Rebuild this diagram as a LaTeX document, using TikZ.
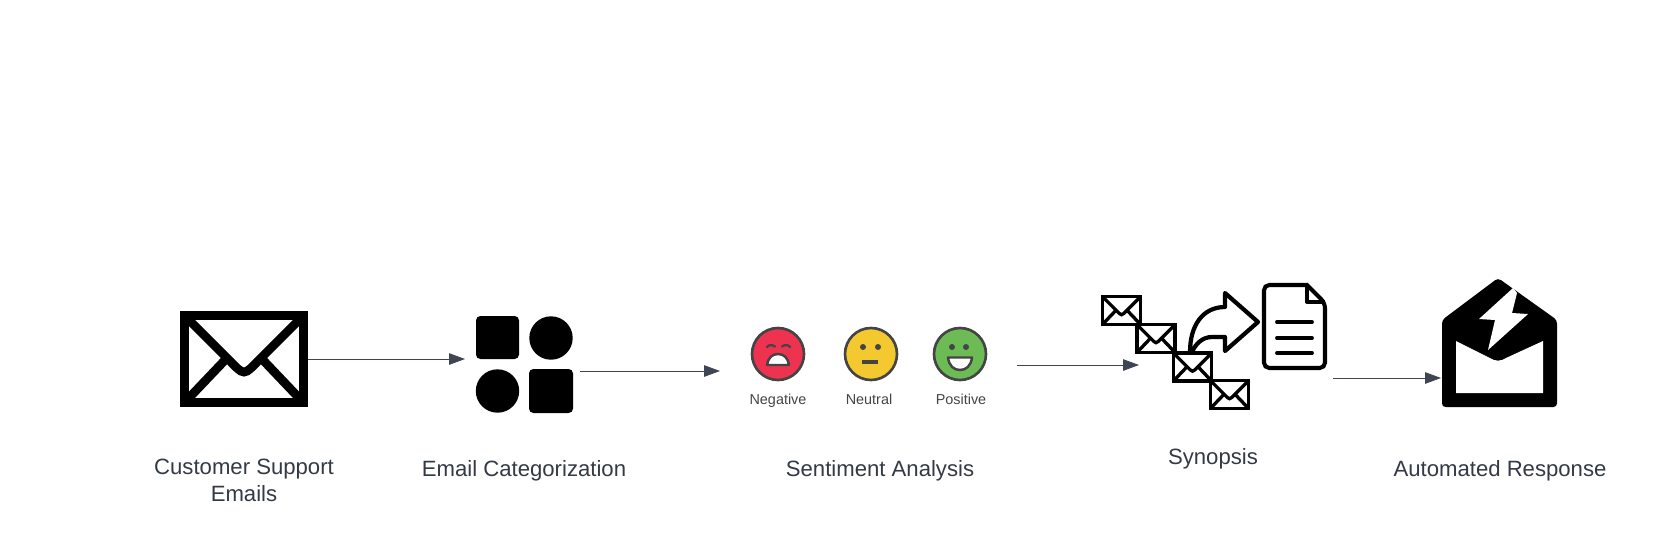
\documentclass[tikz,border=0pt]{standalone}
\usepackage{fontspec}
\setmainfont{Liberation Sans}
\definecolor{flowgray}{HTML}{3F4552}
\definecolor{labelgray}{HTML}{333A45}
\definecolor{facegray}{HTML}{444444}
\definecolor{facered}{HTML}{EE3350}
\definecolor{faceyellow}{HTML}{F4C92F}
\definecolor{facegreen}{HTML}{6CBB55}
\usetikzlibrary{arrows.meta}
\tikzset{
	flow/.style={draw=flowgray, line width=0.45pt, -{Triangle[length=9pt, width=6.5pt, fill=flowgray]}},
	steplabel/.style={text=labelgray, align=center, font=\fontsize{12.6}{14.4}\selectfont, inner sep=0pt, anchor=base},
	facelabel/.style={text=facegray, font=\fontsize{8.2}{10}\selectfont, inner sep=0pt, anchor=base},
	faceface/.style={draw=facegray, line width=1.5pt},
}
% envelope, drawn around its centre: x, y, scale, line width
\newcommand{\mailicon}[4]{
	\begin{scope}[shift={(#1,#2)}, scale=#3]
		\draw[line width=#4, fill=white] (-59.5,-43.5) rectangle (59.5,43.5);
		\draw[line width=#4] (-58,-42) -- (-15,1) .. controls (-8,8) and (-4,13) .. (0,13) .. controls (4,13) and (8,8) .. (15,1) -- (58,-42);
		\draw[line width=#4] (-57,41) -- (-18,0);
		\draw[line width=#4] (57,41) -- (18,0);
	\end{scope}
}
\begin{document}
\begin{tikzpicture}[x=0.02cm, y=-0.02cm]
	\useasboundingbox (0,0) rectangle (1660,552);

	% customer support emails
	\node[minimum width=2.56cm, minimum height=1.92cm, inner sep=0pt] (mail) at (244,359) {};
	\mailicon{244}{359}{1}{5pt}
	\node[steplabel] (mailtext) at (244,474) {Customer Support};
	\node[steplabel] (mailtext2) at (244,501) {Emails};

	% categorization
	\coordinate (gridin) at (465,359);
	\coordinate (gridout) at (580,371);
	\fill[rounded corners=2.5pt] (476,316) rectangle (519,359);
	\fill (551,338) circle (21.7);
	\fill (497.5,391) circle (21.7);
	\fill[rounded corners=2.5pt] (529,369) rectangle (573,413);
	\node[steplabel] (gridtext) at (524,476) {Email Categorization};

	% sentiment
	\coordinate (facein) at (720,371);
	\coordinate (faceout) at (1017,365);
	\filldraw[faceface, fill=facered] (778,354) circle (26);
	\draw[facegray, line width=1.3pt, line cap=round] (767,347) .. controls (769,344.5) and (772,344.5) .. (775,346.5);
	\draw[facegray, line width=1.3pt, line cap=round] (782,346.5) .. controls (785,344.5) and (788,344.5) .. (790,347);
	\filldraw[draw=facegray, fill=white, line width=1.4pt, line join=round] (767,365) .. controls (768,358) and (772,354) .. (778,354) .. controls (784,354) and (788,358) .. (789,365) -- cycle;
	\filldraw[faceface, fill=faceyellow] (871,354) circle (26);
	\fill[facegray] (863,347) circle (3) (878,347) circle (3);
	\fill[facegray] (862,359.5) rectangle (878,363.5);
	\filldraw[faceface, fill=facegreen] (960,354) circle (26);
	\fill[facegray] (952,347) circle (3) (966,347) circle (3);
	\filldraw[draw=facegray, fill=white, line width=1.4pt, line join=round] (948,357.5) -- (972,357.5) .. controls (971,366) and (966,370) .. (960,370) .. controls (954,370) and (949,366) .. (948,357.5) -- cycle;
	\node[facelabel] (negative) at (778,404) {Negative};
	\node[facelabel] (neutral) at (869,404) {Neutral};
	\node[facelabel] (positive) at (961,404) {Positive};
	\node[steplabel] (facetext) at (880,476) {Sentiment Analysis};

	% synopsis
	\coordinate (synin) at (1139,365);
	\coordinate (synout) at (1333,378);
	\filldraw[fill=white, line width=2.4pt, line join=round] (1190,352) .. controls (1190,325) and (1203,307) .. (1225,307) -- (1225,293) -- (1258,322) -- (1225,351) -- (1225,337) -- (1212,337) .. controls (1203,337) and (1196,343) .. (1192,352);
	\foreach \mailx/\maily in {1121.5/310.5, 1156/338.5, 1192.5/367, 1229.5/394.5}
		{\mailicon{\mailx}{\maily}{0.32}{1.9pt}}
	\draw[line width=2.3pt, rounded corners=3pt] (1290,285) -- (1264,285) -- (1264,368) -- (1325,368) -- (1325,303) [sharp corners] -- (1307,285) -- (1290,285);
	\draw[line width=2.3pt, line join=round] (1307,285) -- (1307,302) -- (1325,302);
	\foreach \liney in {322,338,353}
		{\draw[line width=2.2pt, line cap=round] (1277,\liney) -- (1312,\liney);}
	\node[steplabel] (syntext) at (1213,464) {Synopsis};

	% response
	\coordinate (respin) at (1441,378);
	\fill[rounded corners=2pt] (1442,320) -- (1498,278) -- (1557,320) -- (1557,407) -- (1442,407) -- cycle;
	\fill[white] (1456,341) -- (1490,358) .. controls (1495,361.5) and (1501,361.5) .. (1506,358) -- (1543,341) -- (1543,393) -- (1456,393) -- cycle;
	\fill[white] (1513,288) -- (1479,319) -- (1495,320) -- (1488,350) -- (1528,314) -- (1512,313) -- (1517,293) -- cycle;
	\node[steplabel] (resptext) at (1500,476) {Automated Response};

	\draw[flow] (mail.east) -- (gridin);
	\draw[flow] (gridout) -- (facein);
	\draw[flow] (faceout) -- (synin);
	\draw[flow] (synout) -- (respin);
\end{tikzpicture}
\end{document}
